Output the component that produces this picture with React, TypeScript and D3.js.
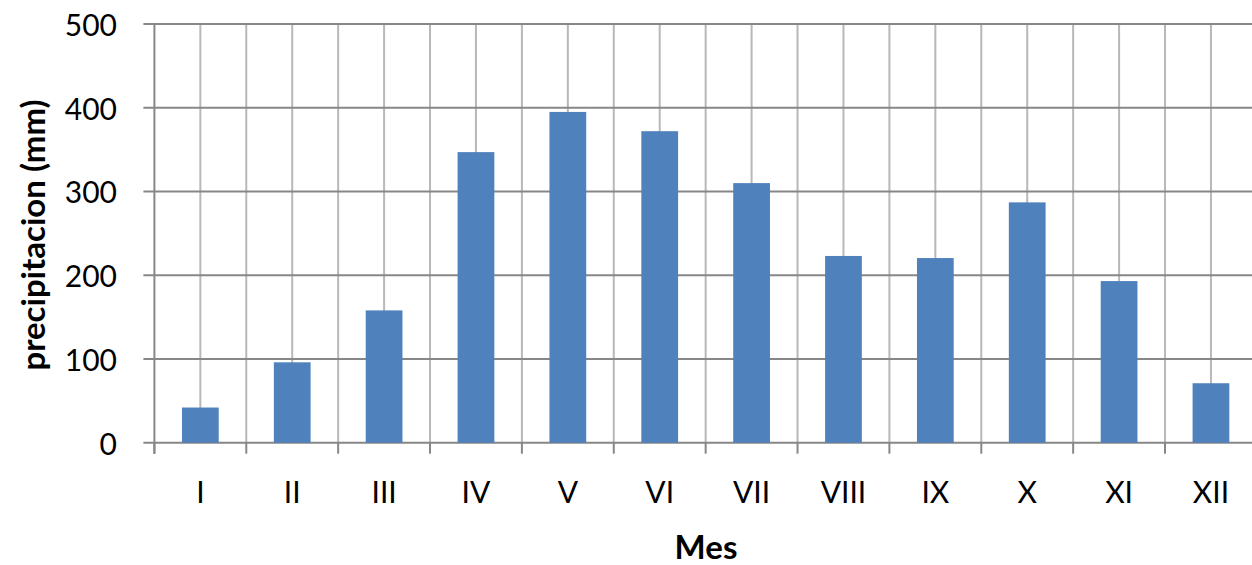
import React from "react";
import * as d3 from "d3";

// Monthly precipitation (mm)
const months = ["I", "II", "III", "IV", "V", "VI", "VII", "VIII", "IX", "X", "XI", "XII"];
const precipitation = [42, 96, 158, 347, 395, 372, 310, 223, 220.5, 287, 193, 71];
const yTicks = [0, 100, 200, 300, 400, 500];

const W = 1252;
const H = 565;
const plot = { left: 154.4, right: 1256.9, top: 24, bottom: 442.7 };

const FONT = "Lato, 'Open Sans', sans-serif";
const GRID_H = "#878787";
const GRID_V = "#b8b8b8";
const BAR = "#4f81bd";

export default function App() {
  const x = d3.scaleBand<string>().domain(months).range([plot.left, plot.right]).paddingInner(0).paddingOuter(0);
  const y = d3.scaleLinear().domain([0, 500]).range([plot.bottom, plot.top]);
  const bw = x.bandwidth();
  const barW = bw * 0.4;

  // Category boundaries (for gridlines and ticks) and centers (for gridlines)
  const boundaries = months.map((m) => x(m)!).concat([plot.right]);
  const centers = months.map((m) => x(m)! + bw / 2);

  return (
    <svg
      width={W}
      height={H}
      viewBox={`0 0 ${W} ${H}`}
      style={{ position: "absolute", left: 0, top: 0, background: "#fff" }}
    >
      <rect x={0} y={0} width={W} height={H} fill="#fff" />
      {/* vertical gridlines at category centers and boundaries */}
      {centers.map((cx, i) => (
        <line key={`vc${i}`} x1={cx} x2={cx} y1={plot.top} y2={plot.bottom} stroke={GRID_V} strokeWidth={2} />
      ))}
      {boundaries.slice(1).map((bx, i) => (
        <line key={`vb${i}`} x1={bx} x2={bx} y1={plot.top} y2={plot.bottom} stroke={GRID_V} strokeWidth={2} />
      ))}
      {/* horizontal gridlines */}
      {yTicks.map((t) => (
        <line key={`h${t}`} x1={plot.left - 11} x2={plot.right} y1={y(t)} y2={y(t)} stroke={GRID_H} strokeWidth={2} />
      ))}
      {/* bars */}
      {precipitation.map((v, i) => (
        <rect
          key={`b${i}`}
          x={centers[i] - barW / 2}
          y={y(v)}
          width={barW}
          height={y(0) - y(v)}
          fill={BAR}
        />
      ))}
      {/* y axis line */}
      <line x1={plot.left} x2={plot.left} y1={plot.top} y2={plot.bottom + 11} stroke={GRID_H} strokeWidth={2} />
      {/* x axis ticks at category boundaries */}
      {boundaries.map((bx, i) => (
        <line key={`xt${i}`} x1={bx} x2={bx} y1={plot.bottom} y2={plot.bottom + 11} stroke={GRID_H} strokeWidth={2} />
      ))}
      {/* y tick labels */}
      {yTicks.map((t) => (
        <text
          key={`yl${t}`}
          x={117}
          y={y(t)}
          textAnchor="end"
          dominantBaseline="central"
          fontFamily={FONT}
          fontSize={30}
          fill="#000"
        >
          {t}
        </text>
      ))}
      {/* x tick labels */}
      {months.map((m, i) => (
        <text
          key={`xl${m}`}
          x={centers[i]}
          y={503}
          textAnchor="middle"
          fontFamily={FONT}
          fontSize={30}
          fill="#000"
        >
          {m}
        </text>
      ))}
      {/* axis titles */}
      <text x={706} y={559} textAnchor="middle" fontFamily={FONT} fontSize={33} fontWeight="bold" fill="#000">
        Mes
      </text>
      <text
        transform={`translate(45, 235) rotate(-90)`}
        textAnchor="middle"
        fontFamily={FONT}
        fontSize={33}
        fontWeight="bold"
        fill="#000"
      >
        precipitacion (mm)
      </text>
    </svg>
  );
}
